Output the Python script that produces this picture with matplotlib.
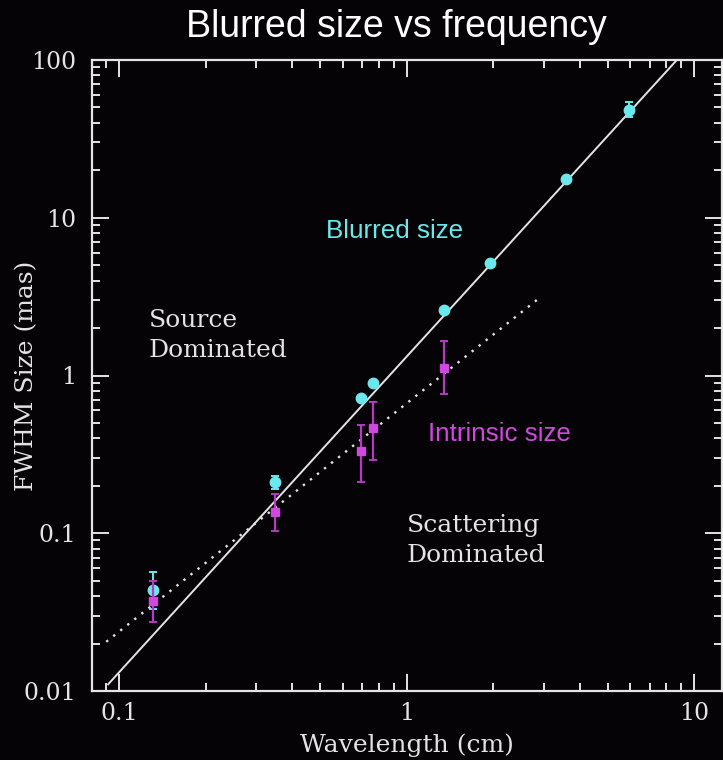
import numpy as np
import matplotlib
matplotlib.use("Agg")
import matplotlib.pyplot as plt

# blurred (observed) size, cyan circles
blur_wl = [0.131, 0.348, 0.693, 0.764, 1.35, 1.95, 3.59, 5.94]
blur_size = [0.0435, 0.21, 0.716, 0.89, 2.62, 5.2, 17.7, 48.3]
blur_lo = [0.033, 0.19, 0.716, 0.89, 2.62, 5.2, 17.7, 43.5]
blur_hi = [0.0565, 0.229, 0.716, 0.89, 2.62, 5.2, 17.7, 54.3]

# intrinsic size, magenta squares
intr_wl = [0.131, 0.348, 0.693, 0.764, 1.35]
intr_size = [0.037, 0.136, 0.332, 0.465, 1.12]
intr_lo = [0.0275, 0.104, 0.21, 0.29, 0.767]
intr_hi = [0.050, 0.177, 0.483, 0.678, 1.66]

# power-law fits: size = amp * wl**index over wl range
blur_fit = (1.32, 2.0, 0.0914, 9.0)
intr_fit = (0.667, 1.446, 0.09, 2.91)

xticks = [0.1, 1, 10]
xticklabels = ["0.1", "1", "10"]
yticks = [0.01, 0.1, 1, 10, 100]
yticklabels = ["0.01", "0.1", "1", "10", "100"]

bg = "#050305"
fg = "#e4e4e4"
cyan = "#6ae8ec"
mag = "#d048e0"
mag_err = "#b838c8"
serif = "DejaVu Serif"
sans = "Liberation Sans"

fig = plt.figure(figsize=(7.23, 7.60), dpi=100, facecolor=bg)
ax = fig.add_axes([92 / 723, 69 / 760, 630 / 723, 631 / 760])
ax.set_facecolor(bg)
ax.set_xscale("log")
ax.set_yscale("log")
ax.set_xlim(0.0803, 12.5)
ax.set_ylim(0.01, 100)

amp, idx, w0, w1 = blur_fit
w = np.array([w0, w1])
ax.plot(w, amp * w ** idx, color=fg, lw=1.4, zorder=2)
amp, idx, w0, w1 = intr_fit
w = np.array([w0, w1])
ax.plot(w, amp * w ** idx, color=fg, lw=1.7, ls=(0, (1, 2.8)), zorder=2)

b = np.array(blur_size)
ax.errorbar(blur_wl, blur_size, yerr=[b - np.array(blur_lo), np.array(blur_hi) - b],
            fmt="o", ms=7.5, color=cyan, ecolor=cyan, elinewidth=1.4, capsize=2.8,
            capthick=1.4, zorder=3)
m = np.array(intr_size)
ax.errorbar(intr_wl, intr_size, yerr=[m - np.array(intr_lo), np.array(intr_hi) - m],
            fmt="s", ms=6, color=mag, ecolor=mag_err, elinewidth=1.6, capsize=2.8,
            capthick=1.4, zorder=4)

for s in ax.spines.values():
    s.set_color(fg)
    s.set_linewidth(1.6)
ax.tick_params(which="both", direction="in", top=True, right=True, colors=fg)
ax.tick_params(which="major", length=12, width=1.4, labelsize=17)
ax.tick_params(axis="x", which="major", pad=8)
ax.tick_params(axis="y", which="major", pad=11)
ax.tick_params(which="minor", length=6, width=1.4)
ax.set_xticks(xticks)
ax.set_xticklabels(xticklabels, family=serif)
ax.set_yticks(yticks)
ax.set_yticklabels(yticklabels, family=serif)

ax.set_xlabel("Wavelength (cm)", family=serif, fontsize=18, color=fg, va="center")
ax.set_ylabel("FWHM Size (mas)", family=serif, fontsize=18, color=fg, va="center")
ax.xaxis.set_label_coords(0.5, -0.0856)
ax.yaxis.set_label_coords(-0.103, 0.5)

ax.text(0.371, 0.729, "Blurred size", transform=ax.transAxes, color=cyan,
        family=sans, fontsize=18.7, va="center")
ax.text(0.533, 0.407, "Intrinsic size", transform=ax.transAxes, color=mag,
        family=sans, fontsize=18.7, va="center")
ax.text(0.0905, 0.563, "Source\nDominated", transform=ax.transAxes, color=fg,
        family=serif, fontsize=18, va="center", linespacing=1.4)
ax.text(0.5, 0.238, "Scattering\nDominated", transform=ax.transAxes, color=fg,
        family=serif, fontsize=18, va="center", linespacing=1.4)

fig.text(396 / 723, 1 - 27 / 760, "Blurred size vs frequency", color="white",
         family=sans, fontsize=27, ha="center", va="center")

fig.savefig("out.png", dpi=100, facecolor=bg)
